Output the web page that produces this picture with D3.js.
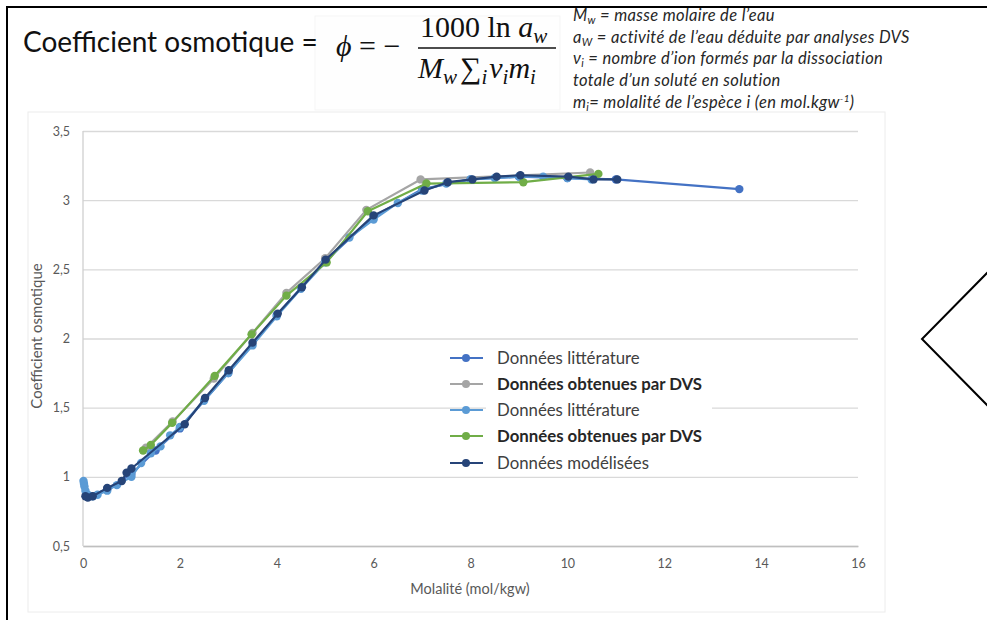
<!DOCTYPE html>
<html><head><meta charset="utf-8">
<script src="https://cdn.jsdelivr.net/npm/d3@7"></script>
<style>html,body{margin:0;padding:0;background:#fff;overflow:hidden}</style>
</head><body>
<svg id="c" width="987" height="620"></svg>
<script>
// ---------- data ----------
const xTicks = [0,2,4,6,8,10,12,14,16];
const yTicks = [0.5,1,1.5,2,2.5,3,3.5];
const yTickLabels = ["0,5","1","1,5","2","2,5","3","3,5"];
const seriesNames = ["Données littérature","Données obtenues par DVS","Données littérature","Données obtenues par DVS","Données modélisées"];
const seriesBold = [false,true,false,true,false];
const seriesColors = ["#4472C4","#A5A5A5","#5B9BD5","#70AD47","#264478"];

const litA_x = [0.1,0.5,1.0,1.5,2.0,3.0,4.0,5.0,6.0,7.0,8.0,9.0,10.0,11.0,13.55];
const litA_y = [0.86,0.91,1.02,1.19,1.35,1.75,2.17,2.56,2.88,3.08,3.15,3.17,3.16,3.15,3.08];

const dvsGray_x = [1.3,1.85,2.7,3.5,4.2,5.0,5.85,6.97,10.47];
const dvsGray_y = [1.21,1.40,1.71,2.04,2.33,2.58,2.93,3.15,3.20];

const litB_x = [0.01,0.02,0.03,0.05,0.1,0.2,0.3,0.5,0.7,1.0,1.2,1.4,1.6,1.8,2.0,2.5,3.0,3.5,4.0,4.5,5.0,5.5,6.0,6.5,7.0,7.5,8.0,8.5,9.0,9.5,10.0,10.5];
const litB_y = [0.97,0.95,0.93,0.90,0.87,0.86,0.87,0.90,0.94,1.00,1.10,1.17,1.22,1.30,1.36,1.55,1.75,1.95,2.16,2.36,2.55,2.73,2.86,2.98,3.07,3.12,3.15,3.16,3.17,3.17,3.16,3.15];

const dvsGreen_x = [1.24,1.4,1.84,2.72,3.48,4.2,5.03,5.88,7.09,9.09,10.64];
const dvsGreen_y = [1.19,1.23,1.39,1.73,2.03,2.31,2.55,2.92,3.12,3.13,3.19];

const model_x = [0.05,0.1,0.2,0.5,0.8,0.9,1.0,2.1,2.52,3.01,3.5,4.02,4.52,5.01,6.0,7.05,7.53,8.04,8.54,9.03,10.02,10.54,11.03];
const model_y = [0.86,0.85,0.86,0.92,0.97,1.03,1.06,1.38,1.57,1.77,1.97,2.18,2.37,2.57,2.89,3.07,3.13,3.15,3.17,3.18,3.17,3.15,3.15];

const seriesX = [litA_x, dvsGray_x, litB_x, dvsGreen_x, model_x];
const seriesY = [litA_y, dvsGray_y, litB_y, dvsGreen_y, model_y];

const annotations = [
  ["M","w"," = masse molaire de l’eau"],
  ["a","W"," = activité de l’eau déduite par analyses DVS"],
  ["ν","i"," = nombre d’ion formés par la dissociation"],
  ["totale d’un soluté en solution","",""],
  ["m","i","= molalité de l’espèce i (en mol.kgw","-1",")"]
];

// ---------- drawing ----------
const svg = d3.select("#c");
const sans = "Lato, 'Open Sans', sans-serif";
const serif = "'Liberation Serif','DejaVu Serif',serif";

// chart area faint frame
svg.append("rect").attr("x",28).attr("y",112).attr("width",857).attr("height",500)
  .attr("fill","#fff").attr("stroke","#ececec").attr("stroke-width",1);
// formula faint box
svg.append("rect").attr("x",315).attr("y",16).attr("width",245).attr("height",94)
  .attr("fill","#fefefe").attr("stroke","#f5f5f5");

const x = d3.scaleLinear().domain([0,16]).range([83,858]);
const y = d3.scaleLinear().domain([0.5,3.5]).range([546,131]);

// gridlines
const yAxis = d3.axisLeft(y).tickValues(yTicks).tickSize(-(x(16)-x(0))).tickFormat((d,i)=>yTickLabels[i]).tickPadding(13);
const gy = svg.append("g").attr("transform",`translate(${x(0)},0)`).call(yAxis);
gy.select(".domain").remove();
gy.selectAll(".tick line").attr("stroke","#d9d9d9").attr("stroke-width",1.3);
gy.selectAll(".tick text").attr("fill","#595959").style("font-family",sans).style("font-size","12.5px");

const xAxis = d3.axisBottom(x).tickValues(xTicks).tickSize(0).tickPadding(13).tickFormat(d3.format("d"));
const gx = svg.append("g").attr("transform",`translate(0,${y(0.5)})`).call(xAxis);
gx.select(".domain").attr("stroke","#bfbfbf").attr("stroke-width",1.3);
gx.selectAll(".tick text").attr("fill","#595959").style("font-family",sans).style("font-size","12.5px");

// left axis line
svg.append("line").attr("x1",x(0)).attr("x2",x(0)).attr("y1",y(3.5)).attr("y2",y(0.5))
  .attr("stroke","#d0d0d0").attr("stroke-width",1.3);

// axis titles
svg.append("text").attr("x",470).attr("y",594).attr("text-anchor","middle")
  .attr("fill","#595959").style("font-family",sans).style("font-size","14.5px").text("Molalité (mol/kgw)");
svg.append("text").attr("transform","translate(42,336) rotate(-90)").attr("text-anchor","middle")
  .attr("fill","#595959").style("font-family",sans).style("font-size","15px").text("Coefficient osmotique");

// series
const line = d3.line().x(d=>x(d[0])).y(d=>y(d[1]));
seriesX.forEach((xs,i)=>{
  const pts = xs.map((v,j)=>[v, seriesY[i][j]]);
  const g = svg.append("g");
  g.append("path").attr("d",line(pts)).attr("fill","none").attr("stroke",seriesColors[i])
    .attr("stroke-width",2.2).attr("stroke-linejoin","round");
  g.selectAll("circle").data(pts).join("circle")
    .attr("cx",d=>x(d[0])).attr("cy",d=>y(d[1])).attr("r",4.2).attr("fill",seriesColors[i]);
});

// legend
svg.append("rect").attr("x",486).attr("y",343).attr("width",226).attr("height",130).attr("fill","#fff");
const legY = [358,384,410,436,463];
seriesNames.forEach((n,i)=>{
  const ly = legY[i];
  svg.append("line").attr("x1",450).attr("x2",483).attr("y1",ly).attr("y2",ly)
    .attr("stroke",seriesColors[i]).attr("stroke-width",2.2);
  svg.append("circle").attr("cx",466).attr("cy",ly).attr("r",4).attr("fill",seriesColors[i]);
  svg.append("text").attr("x",497).attr("y",ly).attr("dy","0.35em")
    .attr("fill",seriesBold[i]?"#262626":"#404040")
    .style("font-family",sans).style("font-size","16.8px")
    .style("font-weight",seriesBold[i]?"bold":"normal").text(n);
});

// title formula
svg.append("text").attr("x",23).attr("y",52).attr("fill","#111")
  .style("font-family",sans).style("font-size","28px").text("Coefficient osmotique =");
const fs = "30px", sfs = "21px";
svg.append("text").attr("x",336).attr("y",56).attr("fill","#111").style("font-family",serif).style("font-size",fs)
  .html('<tspan font-style="italic">ϕ</tspan> = −');
svg.append("text").attr("x",420).attr("y",37).attr("fill","#111").style("font-family",serif).style("font-size",fs)
  .html(`1000 ln <tspan font-style="italic">a</tspan><tspan font-style="italic" font-size="${sfs}" dy="6">w</tspan>`);
svg.append("line").attr("x1",418).attr("x2",556).attr("y1",48).attr("y2",48).attr("stroke","#111").attr("stroke-width",1.5);
svg.append("text").attr("x",418).attr("y",78).attr("fill","#111").style("font-family",serif).style("font-size",fs)
  .html(`<tspan font-style="italic">M</tspan><tspan font-style="italic" font-size="${sfs}" dy="6">w</tspan><tspan dy="-6" dx="3">∑</tspan><tspan font-style="italic" font-size="${sfs}" dy="6">i</tspan><tspan font-style="italic" dy="-6" dx="2">ν</tspan><tspan font-style="italic" font-size="${sfs}" dy="6">i</tspan><tspan font-style="italic" dy="-6">m</tspan><tspan font-style="italic" font-size="${sfs}" dy="6">i</tspan>`);

// annotations
const annY = [21,43,64,86,108];
annotations.forEach((a,i)=>{
  const t = svg.append("text").attr("x",573).attr("y",annY[i]).attr("fill","#262626")
    .style("font-family",sans).style("font-size","16.5px").style("font-style","italic")
    .style("letter-spacing","0.35px");
  if (a[1]==="") { t.text(a[0]); return; }
  t.append("tspan").text(a[0]);
  t.append("tspan").attr("font-size","11px").attr("dy",3).text(a[1]);
  t.append("tspan").attr("dy",-3).text(a[2]);
  if (a.length>3){
    t.append("tspan").attr("font-size","10px").attr("dy",-6).text(a[3]);
    t.append("tspan").attr("dy",6).text(a[4]);
  }
});

// outer frame & chevron
svg.append("rect").attr("x",7).attr("y",7).attr("width",990).attr("height",630)
  .attr("fill","none").attr("stroke","#000").attr("stroke-width",2);
svg.append("polyline").attr("points","990,270 922,339 990,408").attr("fill","none")
  .attr("stroke","#000").attr("stroke-width",2);
</script>
</body></html>
